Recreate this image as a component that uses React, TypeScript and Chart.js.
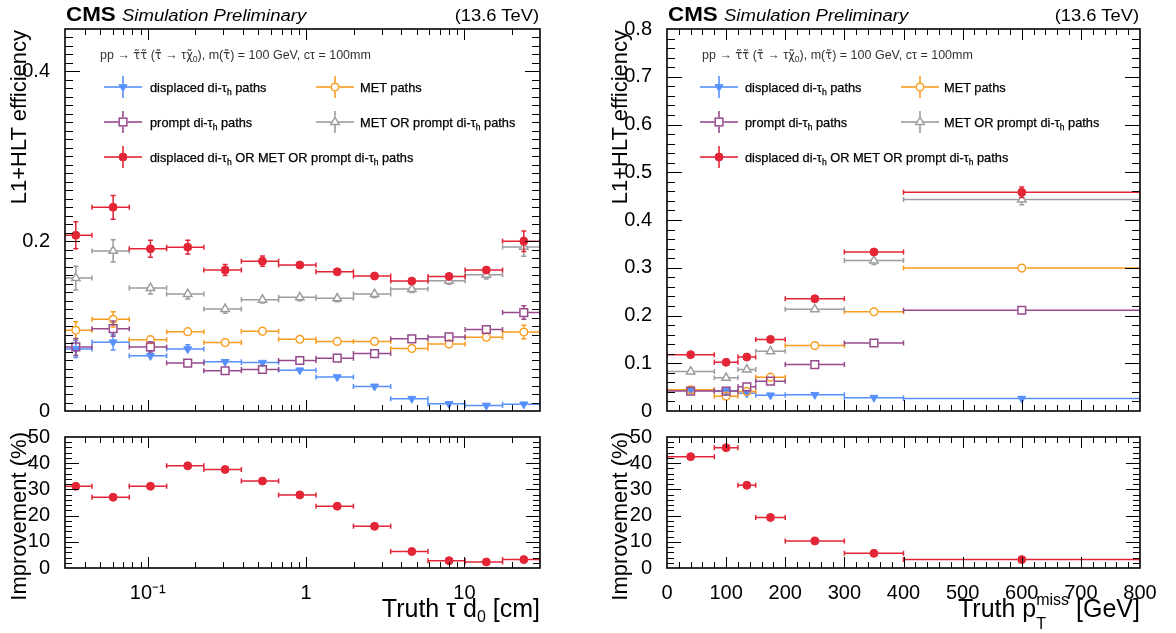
import React, { useEffect, useRef } from "react";
import { Chart, registerables } from "chart.js";

Chart.register(...registerables);

const FONT = "'Liberation Sans', Arial, Helvetica, sans-serif";
const MARK_FONT = "'DejaVu Sans', 'Liberation Sans', sans-serif";

const COLOR_BLUE = "#5790fc";
const COLOR_ORANGE = "#f89c20";
const COLOR_PURPLE = "#964a8b";
const COLOR_GRAY = "#9c9ca1";
const COLOR_RED = "#e42536";

// ---------------- Left panel: efficiency vs truth tau d0 [cm] ----------------
const d0BinEdges = [0.0258, 0.0444, 0.0764, 0.1315, 0.226, 0.39, 0.67, 1.154, 1.99, 3.42, 5.88, 10.1, 17.4, 30];
const d0Displaced = [0.073, 0.081, 0.065, 0.073, 0.058, 0.057, 0.048, 0.04, 0.029, 0.0145, 0.0085, 0.0065, 0.008];
const d0DisplacedErr = [0.01, 0.009, 0.006, 0.005, 0.003, 0.003, 0.003, 0.002, 0.002, 0.002, 0.002, 0.002, 0.002];
const d0Met = [0.095, 0.108, 0.084, 0.0935, 0.0806, 0.094, 0.0845, 0.082, 0.082, 0.0736, 0.079, 0.087, 0.093];
const d0MetErr = [0.01, 0.009, 0.006, 0.005, 0.004, 0.003, 0.003, 0.003, 0.003, 0.003, 0.003, 0.004, 0.008];
const d0Prompt = [0.0755, 0.097, 0.0755, 0.0564, 0.0474, 0.0489, 0.0595, 0.0622, 0.0677, 0.085, 0.0873, 0.096, 0.116];
const d0PromptErr = [0.01, 0.009, 0.006, 0.004, 0.003, 0.003, 0.003, 0.003, 0.003, 0.003, 0.003, 0.004, 0.008];
const d0MetOrPrompt = [0.1566, 0.1886, 0.1448, 0.1378, 0.1202, 0.1311, 0.1339, 0.1327, 0.1378, 0.1436, 0.1534, 0.1605, 0.1933];
const d0MetOrPromptErr = [0.014, 0.013, 0.007, 0.006, 0.005, 0.004, 0.004, 0.004, 0.004, 0.004, 0.004, 0.005, 0.011];
const d0All = [0.207, 0.24, 0.191, 0.193, 0.166, 0.1765, 0.172, 0.164, 0.159, 0.153, 0.1585, 0.166, 0.2];
const d0AllErr = [0.016, 0.014, 0.01, 0.008, 0.0065, 0.006, 0.005, 0.004, 0.004, 0.004, 0.0045, 0.005, 0.012];
const d0Improvement = [31.2, 27.0, 31.2, 39.0, 37.6, 33.2, 27.9, 23.6, 15.9, 6.3, 2.8, 2.3, 3.2];

// ---------------- Right panel: efficiency vs truth pTmiss [GeV] ----------------
const metBinEdges = [0, 80, 120, 150, 200, 300, 400, 800];
const metDisplaced = [0.044, 0.042, 0.037, 0.033, 0.034, 0.028, 0.026];
const metDisplacedErr = [0.003, 0.003, 0.003, 0.002, 0.002, 0.002, 0.002];
const metMet = [0.0444, 0.031, 0.041, 0.0708, 0.137, 0.2076, 0.2993];
const metMetErr = [0.003, 0.003, 0.003, 0.004, 0.004, 0.006, 0.009];
const metPrompt = [0.0417, 0.0417, 0.0507, 0.0625, 0.0972, 0.1424, 0.211];
const metPromptErr = [0.003, 0.003, 0.004, 0.004, 0.005, 0.006, 0.008];
const metMetOrPrompt = [0.0826, 0.0694, 0.0868, 0.125, 0.213, 0.315, 0.443];
const metMetOrPromptErr = [0.004, 0.004, 0.005, 0.005, 0.006, 0.008, 0.011];
const metAll = [0.118, 0.102, 0.113, 0.15, 0.235, 0.333, 0.458];
const metAllErr = [0.004, 0.004, 0.005, 0.005, 0.006, 0.008, 0.011];
const metImprovement = [42.5, 45.9, 31.6, 19.3, 10.3, 5.6, 3.2];

// ---------------- Tick labels ----------------
const d0TickValues = [0.1, 1, 10];
const d0TickLabels = ["10\u207B\u00B9", "1", "10"];
const effLeftTickValues = [0, 0.2, 0.4];
const effLeftTickLabels = ["0", "0.2", "0.4"];
const effRightTickValues = [0, 0.1, 0.2, 0.3, 0.4, 0.5, 0.6, 0.7, 0.8];
const effRightTickLabels = ["0", "0.1", "0.2", "0.3", "0.4", "0.5", "0.6", "0.7", "0.8"];
const impTickValues = [0, 10, 20, 30, 40, 50];
const impTickLabels = ["0", "10", "20", "30", "40", "50"];
const metTickValues = [0, 100, 200, 300, 400, 500, 600, 700, 800];
const metTickLabels = ["0", "100", "200", "300", "400", "500", "600", "700", "800"];

type Shape = "circle" | "square" | "tri" | "invtri";
type SeriesStyle = { name: string; color: string; shape: Shape; filled: boolean; radius: number; order: number };

const STYLE_DISPLACED: SeriesStyle = { name: "displaced di-\u03C4h paths", color: COLOR_BLUE, shape: "invtri", filled: true, radius: 4.6, order: 4 };
const STYLE_MET: SeriesStyle = { name: "MET paths", color: COLOR_ORANGE, shape: "circle", filled: false, radius: 4.6, order: 3 };
const STYLE_PROMPT: SeriesStyle = { name: "prompt di-\u03C4h paths", color: COLOR_PURPLE, shape: "square", filled: false, radius: 6.2, order: 2 };
const STYLE_METORPROMPT: SeriesStyle = { name: "MET OR prompt di-\u03C4h paths", color: COLOR_GRAY, shape: "tri", filled: false, radius: 5.6, order: 1 };
const STYLE_ALL: SeriesStyle = { name: "displaced di-\u03C4h OR MET OR prompt di-\u03C4h paths", color: COLOR_RED, shape: "circle", filled: true, radius: 4, order: 0 };

function gaps(shape: Shape, r: number) {
  if (shape === "circle") return { gx: r, gu: r, gd: r };
  if (shape === "square") return { gx: r * Math.SQRT1_2, gu: r * Math.SQRT1_2, gd: r * Math.SQRT1_2 };
  if (shape === "tri") return { gx: r * 0.58, gu: r, gd: r * 0.5 };
  return { gx: r * 0.58, gu: r * 0.5, gd: r };
}

function binPoints(edges: number[], values: number[], errors: number[] | null) {
  return values.map((v, i) => ({
    x: (edges[i] + edges[i + 1]) / 2,
    y: v,
    xlo: edges[i],
    xhi: edges[i + 1],
    ylo: errors ? v - errors[i] : null,
    yhi: errors ? v + errors[i] : null,
  }));
}

function makeDataset(s: SeriesStyle, points: any[]) {
  const pointStyle = s.shape === "circle" ? "circle" : s.shape === "square" ? "rect" : "triangle";
  return {
    label: s.name,
    data: points,
    showLine: false,
    order: s.order,
    pointStyle,
    pointRotation: s.shape === "invtri" ? 180 : 0,
    pointRadius: s.filled ? s.radius : s.radius - 0.75,
    pointHoverRadius: s.radius,
    pointBackgroundColor: s.filled ? s.color : "rgba(255,255,255,0)",
    pointBorderColor: s.color,
    pointBorderWidth: s.filled ? 1 : 1.5,
    errorBar: { color: s.color, width: 1.5, cap: 2.5, ...gaps(s.shape, s.radius) },
  };
}

const errorBarPlugin = {
  id: "errorBars",
  beforeDatasetDraw(chart: any, args: any) {
    const ds = chart.data.datasets[args.index];
    const eb = ds.errorBar;
    if (!eb) return;
    const { ctx, chartArea: a } = chart;
    const xs = chart.scales.x;
    const ys = chart.scales.y;
    ctx.save();
    ctx.beginPath();
    ctx.rect(a.left, a.top, a.right - a.left, a.bottom - a.top);
    ctx.clip();
    ctx.strokeStyle = eb.color;
    ctx.lineWidth = eb.width;
    ctx.beginPath();
    for (const p of ds.data) {
      const px = xs.getPixelForValue(p.x);
      const py = ys.getPixelForValue(p.y);
      const x0 = xs.getPixelForValue(p.xlo);
      const x1 = xs.getPixelForValue(p.xhi);
      if (px - eb.gx > x0) {
        ctx.moveTo(x0, py);
        ctx.lineTo(px - eb.gx, py);
      }
      if (x1 > px + eb.gx) {
        ctx.moveTo(px + eb.gx, py);
        ctx.lineTo(x1, py);
      }
      ctx.moveTo(x0, py - eb.cap);
      ctx.lineTo(x0, py + eb.cap);
      ctx.moveTo(x1, py - eb.cap);
      ctx.lineTo(x1, py + eb.cap);
      if (p.ylo !== null && p.yhi !== null) {
        const y0 = ys.getPixelForValue(p.ylo);
        const y1 = ys.getPixelForValue(p.yhi);
        if (y0 > py + eb.gd + 0.5) {
          ctx.moveTo(px, py + eb.gd);
          ctx.lineTo(px, y0);
          ctx.moveTo(px - eb.cap, y0);
          ctx.lineTo(px + eb.cap, y0);
        }
        if (y1 < py - eb.gu - 0.5) {
          ctx.moveTo(px, py - eb.gu);
          ctx.lineTo(px, y1);
          ctx.moveTo(px - eb.cap, y1);
          ctx.lineTo(px + eb.cap, y1);
        }
      }
    }
    ctx.stroke();
    ctx.restore();
  },
};

type FrameCfg = {
  xMajor: number[];
  xMinor: number[];
  yMajor: number[];
  yMinor: number[];
  xMajorLen: number;
  xMinorLen: number;
  yMajorLen: number;
  yMinorLen: number;
};

function makeFramePlugin(fc: FrameCfg) {
  return {
    id: "rootFrame",
    afterDatasetsDraw(chart: any) {
      const { ctx, chartArea: a } = chart;
      const xs = chart.scales.x;
      const ys = chart.scales.y;
      ctx.save();
      ctx.strokeStyle = "#000";
      ctx.lineWidth = 1;
      ctx.beginPath();
      const xt = (vals: number[], len: number) => {
        for (const v of vals) {
          const p = Math.round(xs.getPixelForValue(v)) + 0.5;
          if (p < a.left + 1 || p > a.right - 1) continue;
          ctx.moveTo(p, a.bottom);
          ctx.lineTo(p, a.bottom - len);
          ctx.moveTo(p, a.top);
          ctx.lineTo(p, a.top + len);
        }
      };
      const yt = (vals: number[], len: number) => {
        for (const v of vals) {
          const p = Math.round(ys.getPixelForValue(v)) + 0.5;
          if (p < a.top + 1 || p > a.bottom - 1) continue;
          ctx.moveTo(a.left, p);
          ctx.lineTo(a.left + len, p);
          ctx.moveTo(a.right, p);
          ctx.lineTo(a.right - len, p);
        }
      };
      xt(fc.xMinor, fc.xMinorLen);
      xt(fc.xMajor, fc.xMajorLen);
      yt(fc.yMinor, fc.yMinorLen);
      yt(fc.yMajor, fc.yMajorLen);
      ctx.stroke();
      ctx.lineWidth = 1.6;
      ctx.strokeRect(a.left, a.top, a.right - a.left, a.bottom - a.top);
      ctx.restore();
    },
  };
}

function stepTicks(start: number, stop: number, step: number) {
  const out: number[] = [];
  const n = Math.round((stop - start) / step);
  for (let i = 0; i <= n; i++) out.push(+(start + i * step).toFixed(6));
  return out;
}

function logMinorTicks(min: number, max: number) {
  const out: number[] = [];
  for (let e = -2; e <= 1; e++) {
    for (let m = 1; m <= 9; m++) {
      const v = +(m * Math.pow(10, e)).toPrecision(6);
      if (v >= min * 0.999 && v <= max * 1.001) out.push(v);
    }
  }
  return out;
}

type ChartOpts = {
  datasets: any[];
  padding: { left: number; top: number; right: number; bottom: number };
  xLog: boolean;
  xMin: number;
  xMax: number;
  xTickValues: number[];
  xTickLabels: string[];
  showXLabels: boolean;
  xAxisHeight: number;
  yMin: number;
  yMax: number;
  yTickValues: number[];
  yTickLabels: string[];
  yAxisWidth: number;
  frame: FrameCfg;
};

function buildConfig(o: ChartOpts): any {
  return {
    type: "scatter",
    data: { datasets: o.datasets },
    options: {
      animation: false,
      responsive: false,
      maintainAspectRatio: false,
      events: [],
      layout: { padding: o.padding },
      plugins: { legend: { display: false }, tooltip: { enabled: false }, title: { display: false } },
      scales: {
        x: {
          type: o.xLog ? "logarithmic" : "linear",
          min: o.xMin,
          max: o.xMax,
          grid: { display: false },
          border: { display: false },
          ticks: {
            display: o.showXLabels,
            autoSkip: false,
            maxRotation: 0,
            minRotation: 0,
            padding: 5,
            color: "#000",
            font: { family: FONT, size: 20 },
            callback: (_v: any, i: number) => o.xTickLabels[i],
          },
          afterBuildTicks: (s: any) => {
            s.ticks = o.xTickValues.map((v) => ({ value: v }));
          },
          afterFit: (s: any) => {
            s.height = o.xAxisHeight;
          },
        },
        y: {
          type: "linear",
          min: o.yMin,
          max: o.yMax,
          grid: { display: false },
          border: { display: false },
          ticks: {
            autoSkip: false,
            padding: 7,
            color: "#000",
            font: { family: FONT, size: 20 },
            callback: (_v: any, i: number) => o.yTickLabels[i],
          },
          afterBuildTicks: (s: any) => {
            s.ticks = o.yTickValues.map((v) => ({ value: v }));
          },
          afterFit: (s: any) => {
            s.width = o.yAxisWidth;
          },
        },
      },
    },
    plugins: [errorBarPlugin, makeFramePlugin(o.frame)],
  };
}

const d0Minor = logMinorTicks(0.03, 30);

function leftTopConfig() {
  return buildConfig({
    datasets: [
      makeDataset(STYLE_DISPLACED, binPoints(d0BinEdges, d0Displaced, d0DisplacedErr)),
      makeDataset(STYLE_MET, binPoints(d0BinEdges, d0Met, d0MetErr)),
      makeDataset(STYLE_PROMPT, binPoints(d0BinEdges, d0Prompt, d0PromptErr)),
      makeDataset(STYLE_METORPROMPT, binPoints(d0BinEdges, d0MetOrPrompt, d0MetOrPromptErr)),
      makeDataset(STYLE_ALL, binPoints(d0BinEdges, d0All, d0AllErr)),
    ],
    padding: { left: 0, top: 29, right: 50, bottom: 0 },
    xLog: true,
    xMin: 0.03,
    xMax: 30,
    xTickValues: d0TickValues,
    xTickLabels: d0TickLabels,
    showXLabels: false,
    xAxisHeight: 18,
    yMin: 0,
    yMax: 0.45,
    yTickValues: effLeftTickValues,
    yTickLabels: effLeftTickLabels,
    yAxisWidth: 65,
    frame: {
      xMajor: d0TickValues,
      xMinor: d0Minor,
      yMajor: effLeftTickValues,
      yMinor: stepTicks(0, 0.45, 0.01),
      xMajorLen: 11,
      xMinorLen: 6,
      yMajorLen: 15,
      yMinorLen: 8,
    },
  });
}

function leftBottomConfig() {
  return buildConfig({
    datasets: [makeDataset(STYLE_ALL, binPoints(d0BinEdges, d0Improvement, null))],
    padding: { left: 0, top: 22, right: 50, bottom: 0 },
    xLog: true,
    xMin: 0.03,
    xMax: 30,
    xTickValues: d0TickValues,
    xTickLabels: d0TickLabels,
    showXLabels: true,
    xAxisHeight: 65,
    yMin: 0,
    yMax: 50,
    yTickValues: impTickValues,
    yTickLabels: impTickLabels,
    yAxisWidth: 65,
    frame: {
      xMajor: d0TickValues,
      xMinor: d0Minor,
      yMajor: impTickValues,
      yMinor: stepTicks(0, 50, 2),
      xMajorLen: 11,
      xMinorLen: 6,
      yMajorLen: 14,
      yMinorLen: 7,
    },
  });
}

function rightTopConfig() {
  return buildConfig({
    datasets: [
      makeDataset(STYLE_DISPLACED, binPoints(metBinEdges, metDisplaced, metDisplacedErr)),
      makeDataset(STYLE_MET, binPoints(metBinEdges, metMet, metMetErr)),
      makeDataset(STYLE_PROMPT, binPoints(metBinEdges, metPrompt, metPromptErr)),
      makeDataset(STYLE_METORPROMPT, binPoints(metBinEdges, metMetOrPrompt, metMetOrPromptErr)),
      makeDataset(STYLE_ALL, binPoints(metBinEdges, metAll, metAllErr)),
    ],
    padding: { left: 0, top: 29, right: 36, bottom: 0 },
    xLog: false,
    xMin: 0,
    xMax: 800,
    xTickValues: metTickValues,
    xTickLabels: metTickLabels,
    showXLabels: false,
    xAxisHeight: 18,
    yMin: 0,
    yMax: 0.8,
    yTickValues: effRightTickValues,
    yTickLabels: effRightTickLabels,
    yAxisWidth: 77,
    frame: {
      xMajor: metTickValues,
      xMinor: stepTicks(0, 800, 20),
      yMajor: effRightTickValues,
      yMinor: stepTicks(0, 0.8, 0.02),
      xMajorLen: 11,
      xMinorLen: 6,
      yMajorLen: 15,
      yMinorLen: 8,
    },
  });
}

function rightBottomConfig() {
  return buildConfig({
    datasets: [makeDataset(STYLE_ALL, binPoints(metBinEdges, metImprovement, null))],
    padding: { left: 0, top: 22, right: 36, bottom: 0 },
    xLog: false,
    xMin: 0,
    xMax: 800,
    xTickValues: metTickValues,
    xTickLabels: metTickLabels,
    showXLabels: true,
    xAxisHeight: 65,
    yMin: 0,
    yMax: 50,
    yTickValues: impTickValues,
    yTickLabels: impTickLabels,
    yAxisWidth: 77,
    frame: {
      xMajor: metTickValues,
      xMinor: stepTicks(0, 800, 20),
      yMajor: impTickValues,
      yMinor: stepTicks(0, 50, 2),
      xMajorLen: 11,
      xMinorLen: 6,
      yMajorLen: 14,
      yMinorLen: 7,
    },
  });
}

function ChartCanvas(props: { left: number; top: number; width: number; height: number; build: () => any }) {
  const ref = useRef<HTMLCanvasElement | null>(null);
  useEffect(() => {
    if (!ref.current) return;
    const chart = new Chart(ref.current, props.build());
    return () => chart.destroy();
  }, []);
  return (
    <canvas
      ref={ref}
      width={props.width}
      height={props.height}
      style={{ position: "absolute", left: props.left, top: props.top, width: props.width, height: props.height }}
    />
  );
}

function MarkerSvg({ x, y, s }: { x: number; y: number; s: SeriesStyle }) {
  const r = s.radius;
  const fill = s.filled ? s.color : "none";
  const sw = s.filled ? 1 : 1.5;
  if (s.shape === "circle") return <circle cx={x} cy={y} r={s.filled ? r : r - 0.75} fill={fill} stroke={s.color} strokeWidth={sw} />;
  if (s.shape === "square") {
    const h = (r - 0.75) * Math.SQRT1_2;
    return <rect x={x - h} y={y - h} width={2 * h} height={2 * h} fill={fill} stroke={s.color} strokeWidth={sw} />;
  }
  const rot = s.shape === "invtri" ? Math.PI : 0;
  const rr = s.filled ? r : r - 0.75;
  const pts = [0, 1, 2]
    .map((k) => {
      const a = rot + (k * 2 * Math.PI) / 3;
      return `${x + Math.sin(a) * rr},${y - Math.cos(a) * rr}`;
    })
    .join(" ");
  return <polygon points={pts} fill={fill} stroke={s.color} strokeWidth={sw} />;
}

function LegendSymbol({ x, y, s }: { x: number; y: number; s: SeriesStyle }) {
  const g = gaps(s.shape, s.radius);
  const hw = 19;
  const vh = 11;
  return (
    <g>
      <g stroke={s.color} strokeWidth={1.6}>
        <line x1={x - hw} y1={y} x2={x - g.gx} y2={y} />
        <line x1={x + g.gx} y1={y} x2={x + hw} y2={y} />
        <line x1={x} y1={y - vh} x2={x} y2={y - g.gu} />
        <line x1={x} y1={y + g.gd} x2={x} y2={y + vh} />
      </g>
      <MarkerSvg x={x} y={y} s={s} />
    </g>
  );
}

function LegendText({ x, y, text }: { x: number; y: number; text: string }) {
  const parts = text.split("\u03C4h");
  const out: any[] = [];
  parts.forEach((p, i) => {
    if (i === 0) {
      out.push(<tspan key={`p${i}`}>{p + (parts.length > 1 ? "\u03C4" : "")}</tspan>);
    } else {
      out.push(
        <tspan key={`s${i}`} dy={3.5} fontSize={8.5}>
          h
        </tspan>
      );
      out.push(
        <tspan key={`p${i}`} dy={-3.5}>
          {p + (i < parts.length - 1 ? "\u03C4" : "")}
        </tspan>
      );
    }
  });
  return (
    <text x={x} y={y} fontSize={12.8} fill="#000" stroke="#000" strokeWidth={0.25}>
      {out}
    </text>
  );
}

const STAU = "\u03C4\u0303";

const PANELS = [
  { fl: 65, fr: 540, yTitleX: 26, kind: "d0", c1m: 58, c1t: 85, c2m: 270, c2t: 295, hdr: 35 },
  { fl: 667, fr: 1140, yTitleX: 627, kind: "met", c1m: 52, c1t: 78, c2m: 253, c2t: 277, hdr: 35 },
];

function Overlay() {
  const rows = [87, 122, 157];
  return (
    <svg
      width={1176}
      height={633}
      style={{ position: "absolute", left: 0, top: 0, pointerEvents: "none" }}
      fontFamily={FONT}
    >
      {PANELS.map((p) => {
        const c1m = p.fl + p.c1m;
        const c1t = p.fl + p.c1t;
        const c2m = p.fl + p.c2m;
        const c2t = p.fl + p.c2t;
        return (
          <g key={p.kind}>
            <g transform={`translate(${p.fl + 1},21) scale(1.12,1)`}>
              <text fontWeight="bold" fontSize={20}>
                CMS
              </text>
            </g>
            <g transform={`translate(${p.fl + 57},21) scale(1.09,1)`}>
              <text fontStyle="italic" fontSize={17}>
                Simulation Preliminary
              </text>
            </g>
            <g transform={`translate(${p.fr - 1},21) scale(1.08,1)`}>
              <text fontSize={17} textAnchor="end">
                (13.6 TeV)
              </text>
            </g>
            <text x={p.fl + p.hdr} y={59} fontSize={12.5} fill="#333">
              {"pp \u2192 "}
              <tspan fontFamily={MARK_FONT} fontSize={11.5}>{STAU + STAU}</tspan>
              {" ("}
              <tspan fontFamily={MARK_FONT} fontSize={11.5}>{STAU}</tspan>
              {" \u2192 \u03C4"}
              <tspan fontFamily={MARK_FONT} fontSize={11.5}>{"\u03C7\u0303"}</tspan>
              <tspan dy={3} fontSize={8.5}>
                0
              </tspan>
              <tspan dy={-3}>{"), m("}</tspan>
              <tspan fontFamily={MARK_FONT} fontSize={11.5}>{STAU}</tspan>
              {") = 100 GeV, c\u03C4 = 100mm"}
            </text>
            <LegendSymbol x={c1m} y={rows[0]} s={STYLE_DISPLACED} />
            <LegendText x={c1t} y={rows[0] + 4.5} text={STYLE_DISPLACED.name} />
            <LegendSymbol x={c2m} y={rows[0]} s={STYLE_MET} />
            <LegendText x={c2t} y={rows[0] + 4.5} text={STYLE_MET.name} />
            <LegendSymbol x={c1m} y={rows[1]} s={STYLE_PROMPT} />
            <LegendText x={c1t} y={rows[1] + 4.5} text={STYLE_PROMPT.name} />
            <LegendSymbol x={c2m} y={rows[1]} s={STYLE_METORPROMPT} />
            <LegendText x={c2t} y={rows[1] + 4.5} text={STYLE_METORPROMPT.name} />
            <LegendSymbol x={c1m} y={rows[2]} s={STYLE_ALL} />
            <LegendText x={c1t} y={rows[2] + 4.5} text={STYLE_ALL.name} />

            <text x={p.yTitleX} y={30} transform={`rotate(-90 ${p.yTitleX} 30)`} textAnchor="end" fontSize={22}>
              L1+HLT efficiency
            </text>
            <text x={p.yTitleX} y={432} transform={`rotate(-90 ${p.yTitleX} 432)`} textAnchor="end" fontSize={22}>
              Improvement (%)
            </text>
            {p.kind === "d0" ? (
              <text x={p.fr} y={617} textAnchor="end" fontSize={25}>
                {"Truth \u03C4 d"}
                <tspan dy={5} fontSize={16}>
                  0
                </tspan>
                <tspan dy={-5}>{" [cm]"}</tspan>
              </text>
            ) : (
              <text x={p.fr} y={617} textAnchor="end" fontSize={25}>
                {"Truth p"}
                <tspan dy={12} fontSize={16}>
                  T
                </tspan>
                <tspan dx={-9.8} dy={-24} fontSize={16}>
                  miss
                </tspan>
                <tspan dy={12}>{" [GeV]"}</tspan>
              </text>
            )}
          </g>
        );
      })}
    </svg>
  );
}

export default function App() {
  return (
    <div
      style={{
        position: "absolute",
        left: 0,
        top: 0,
        width: 1176,
        height: 633,
        background: "#fff",
        overflow: "hidden",
      }}
    >
      <ChartCanvas left={0} top={0} width={590} height={430} build={leftTopConfig} />
      <ChartCanvas left={0} top={415} width={590} height={218} build={leftBottomConfig} />
      <ChartCanvas left={590} top={0} width={586} height={430} build={rightTopConfig} />
      <ChartCanvas left={590} top={415} width={586} height={218} build={rightBottomConfig} />
      <Overlay />
    </div>
  );
}
